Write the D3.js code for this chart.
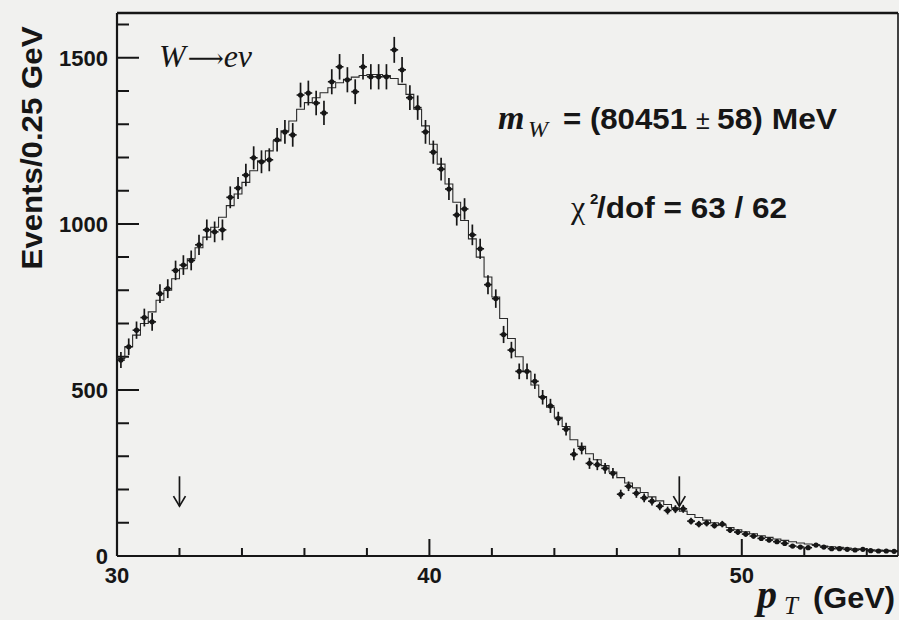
<!DOCTYPE html>
<html><head><meta charset="utf-8">
<script src="https://cdn.jsdelivr.net/npm/d3@7"></script>
<style>body{margin:0;background:#f1f1ef} svg{display:block}</style>
</head><body><svg id="c" width="899" height="620"></svg>
<script>
// ---- data ----
const binStart = 30;
const binWidth = 0.25;
const dataCounts = [
590,630,680,718,705,790,805,860,876,890,
937,982,976,982,1080,1108,1147,1199,1187,1193,
1253,1277,1268,1388,1394,1364,1334,1428,1473,1434,
1398,1473,1443,1443,1443,1524,1464,1380,1350,1277,
1216,1165,1105,1027,1045,967,925,817,775,667,
620,556,556,526,478,452,414,382,306,324,
279,275,264,249,186,210,189,175,165,150,
137,141,142,105,96,99,92,96,78,72,
66,60,53,48,43,38,30,27,25,33,
27,22,22,20,18,20,16,15,15,14];
const fitCounts = [
595,630,665,700,735,770,800,835,865,895,
928,960,990,1020,1055,1090,1125,1160,1190,1220,
1250,1280,1310,1345,1365,1380,1395,1410,1425,1435,
1442,1447,1450,1450,1447,1438,1420,1390,1345,1295,
1240,1180,1120,1065,1010,955,900,840,780,715,
655,600,555,515,480,448,418,390,350,330,
308,290,272,253,236,220,205,191,178,166,
155,145,135,125,116,108,100,93,86,79,
73,67,61,56,51,47,43,39,36,33,
30,28,26,24,22,20,19,18,17,16];
const xMajorTicks = [30,40,50];
const xMinorTicks = [32,34,36,38,42,44,46,48,52,54];
const yMajorTicks = [0,500,1000,1500];
const yMinorTicks = [100,200,300,400,600,700,800,900,1100,1200,1300,1400,1600];
const arrowX = [32,48];
const arrowFrom = 240, arrowTo = 150;

// ---- layout ----
const svg = d3.select('#c');
const ink = '#161616';
const x = d3.scaleLinear().domain([30,55]).range([117,898]);
const y = d3.scaleLinear().domain([0,1635]).range([556,13]);

svg.append('rect').attr('width',899).attr('height',620).attr('fill','#f1f1ef');

// frame and axes
const frame = svg.append('g').attr('stroke',ink);
frame.append('line').attr('x1',x(30)).attr('x2',x(55)).attr('y1',y(1635)).attr('y2',y(1635)).attr('stroke-width',2.5);
frame.append('line').attr('x1',x(55)).attr('x2',x(55)).attr('y1',y(1635)).attr('y2',y(0)).attr('stroke-width',1.6);
frame.append('line').attr('x1',x(30)).attr('x2',x(55)).attr('y1',y(0)).attr('y2',y(0)).attr('stroke-width',2.2);
frame.append('line').attr('x1',x(30)).attr('x2',x(30)).attr('y1',y(1635)).attr('y2',y(0)).attr('stroke-width',2.2);

// inward ticks, drawn as one path
let tp = '';
xMajorTicks.forEach(d=>{ tp += `M${x(d)},${y(0)}V${y(0)-17}`; });
xMinorTicks.forEach(d=>{ tp += `M${x(d)},${y(0)}V${y(0)-8}`; });
yMajorTicks.forEach(d=>{ tp += `M${x(30)},${y(d)}H${x(30)+22}`; });
yMinorTicks.forEach(d=>{ tp += `M${x(30)},${y(d)}H${x(30)+12}`; });
svg.append('path').attr('d',tp).attr('fill','none').attr('stroke',ink).attr('stroke-width',2);

const sans = 'Liberation Sans, Arial, Helvetica, sans-serif';
const serif = 'Liberation Serif, Times New Roman, serif';

// tick labels
svg.append('g').selectAll('text').data(yMajorTicks).join('text')
  .attr('x',108).attr('y',d=>y(d)).attr('dy','0.36em').attr('text-anchor','end')
  .attr('font-family',sans).attr('font-weight','bold').attr('font-size',22)
  .attr('fill',ink).text(d=>d);
svg.append('g').selectAll('text').data(xMajorTicks).join('text')
  .attr('x',d=>x(d)).attr('y',583).attr('text-anchor','middle')
  .attr('font-family',sans).attr('font-weight','bold').attr('font-size',22)
  .attr('fill',ink).text(d=>d);

// fit histogram (step line)
const edges = fitCounts.map((v,i)=>[binStart+i*binWidth, v]);
edges.push([binStart+fitCounts.length*binWidth, fitCounts[fitCounts.length-1]]);
svg.append('path').datum(edges)
  .attr('d', d3.line().x(d=>x(d[0])).y(d=>y(d[1])).curve(d3.curveStepAfter))
  .attr('fill','none').attr('stroke','#2a2a2a').attr('stroke-width',1.1);

// data points with error bars
const pts = dataCounts.map((v,i)=>({c: binStart+(i+0.5)*binWidth, v}));
const gp = svg.append('g').attr('stroke',ink).attr('fill',ink);
gp.selectAll('line.v').data(pts).join('line').attr('class','v')
  .attr('x1',d=>x(d.c)).attr('x2',d=>x(d.c))
  .attr('y1',d=>y(d.v+Math.sqrt(d.v))).attr('y2',d=>y(Math.max(0,d.v-Math.sqrt(d.v))))
  .attr('stroke-width',1.7);
gp.selectAll('line.h').data(pts).join('line').attr('class','h')
  .attr('x1',d=>x(d.c-binWidth/2)).attr('x2',d=>x(d.c+binWidth/2))
  .attr('y1',d=>y(d.v)).attr('y2',d=>y(d.v)).attr('stroke-width',1.6);
gp.selectAll('circle').data(pts).join('circle')
  .attr('cx',d=>x(d.c)).attr('cy',d=>y(d.v)).attr('r',2.6).attr('stroke','none');

// arrows
const ga = svg.append('g').attr('stroke',ink).attr('fill','none').attr('stroke-width',1.7);
arrowX.forEach(a=>{
  ga.append('line').attr('x1',x(a)).attr('x2',x(a)).attr('y1',y(arrowFrom)).attr('y2',y(arrowTo));
  ga.append('path').attr('d',`M${x(a)-6},${y(arrowTo)-10} L${x(a)},${y(arrowTo)} L${x(a)+6},${y(arrowTo)-10}`);
});

// labels
svg.append('text').attr('transform','translate(42,148) rotate(-90)').attr('text-anchor','middle')
  .attr('font-family',sans).attr('font-weight','bold').attr('font-size',30).attr('fill',ink)
  .attr('textLength',243).attr('lengthAdjust','spacingAndGlyphs')
  .text('Events/0.25 GeV');

const t1 = svg.append('text').attr('x',159).attr('y',67).attr('font-family',serif).attr('font-style','italic').attr('font-size',32).attr('fill',ink);
t1.append('tspan').text('W');
t1.append('tspan').attr('font-style','normal').attr('font-family','DejaVu Serif, serif').attr('font-size',26).attr('dx',2).attr('textLength',36).attr('lengthAdjust','spacingAndGlyphs').text('⟶');
t1.append('tspan').text('eν');

const t2 = svg.append('text').attr('y',129).attr('fill',ink);
t2.append('tspan').attr('x',498).attr('font-family',serif).attr('font-style','italic').attr('font-weight','bold').attr('font-size',34).text('m');
t2.append('tspan').attr('x',528).attr('font-family',serif).attr('font-style','italic').attr('font-size',24).attr('dy',8).text('W');
t2.append('tspan').attr('x',563).attr('font-family',sans).attr('font-weight','bold').attr('font-size',30).attr('dy',-8)
  .attr('textLength',124).attr('lengthAdjust','spacingAndGlyphs').text('= (80451');
t2.append('tspan').attr('x',696).attr('font-family',sans).attr('font-size',25).text('±');
t2.append('tspan').attr('x',717).attr('font-family',sans).attr('font-weight','bold').attr('font-size',30)
  .attr('textLength',120).attr('lengthAdjust','spacingAndGlyphs').text('58) MeV');

const t3 = svg.append('text').attr('y',218).attr('fill',ink);
t3.append('tspan').attr('x',571).attr('font-family',serif).attr('font-size',32).text('χ');
t3.append('tspan').attr('x',590).attr('font-family',sans).attr('font-weight','bold').attr('font-size',15).attr('dy',-14).text('2');
t3.append('tspan').attr('x',597).attr('font-family',sans).attr('font-weight','bold').attr('font-size',30).attr('dy',14)
  .attr('textLength',190).attr('lengthAdjust','spacingAndGlyphs').text('/dof = 63 / 62');

const t4 = svg.append('text').attr('y',608).attr('fill',ink);
t4.append('tspan').attr('x',757).attr('font-family',serif).attr('font-style','italic').attr('font-weight','bold').attr('font-size',40).text('p');
t4.append('tspan').attr('x',784).attr('font-family',serif).attr('font-style','italic').attr('font-size',25).attr('dy',6).text('T');
t4.append('tspan').attr('x',813).attr('font-family',sans).attr('font-weight','bold').attr('font-size',30).attr('dy',-6)
  .attr('textLength',82).attr('lengthAdjust','spacingAndGlyphs').text('(GeV)');
</script></body></html>
